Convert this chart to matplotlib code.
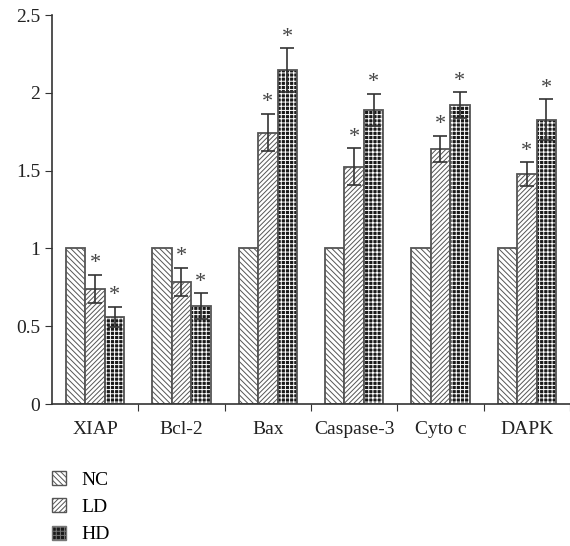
import numpy as np
import matplotlib.pyplot as plt
from matplotlib.patches import Patch

plt.rcParams['font.family'] = ['Liberation Serif', 'DejaVu Serif']
plt.rcParams['hatch.linewidth'] = 0.7

categories = ['XIAP', 'Bcl-2', 'Bax', 'Caspase-3', 'Cyto c', 'DAPK']
groups = ['NC', 'LD', 'HD']

nc = [1, 1, 1, 1, 1, 1]
ld = [0.74, 0.785, 1.745, 1.525, 1.64, 1.478]
hd = [0.56, 0.628, 2.145, 1.89, 1.92, 1.828]

ld_err = [0.09, 0.09, 0.12, 0.12, 0.085, 0.075]
hd_err = [0.065, 0.083, 0.14, 0.105, 0.083, 0.13]

fig = plt.figure(figsize=(5.7, 5.46), dpi=100)
ax = fig.add_axes([0.0912, 0.26, 0.9088, 0.7125])

x = np.arange(len(categories))
w = 0.225
edge = '#555555'

ax.bar(x - w, nc, w, color='white', edgecolor=edge, hatch='\\\\\\\\\\\\', linewidth=1.3)
ax.bar(x, ld, w, color='white', edgecolor=edge, hatch='///////', linewidth=1.3)
# HD: dark fill with white hatch, then outline on top
ax.bar(x + w, hd, w, color='#1a1a1a', edgecolor='white', hatch='++++', linewidth=0)
ax.bar(x + w, hd, w, fill=False, edgecolor=edge, linewidth=1.3)

ax.errorbar(x, ld, yerr=ld_err, fmt='none', ecolor='#333333', capsize=5, elinewidth=1.2, capthick=1.2)
ax.errorbar(x + w, hd, yerr=hd_err, fmt='none', ecolor='#333333', capsize=5, elinewidth=1.2, capthick=1.2)

for xi, v, e in zip(x, ld, ld_err):
    ax.text(xi, v + e + 0.01, '*', ha='center', va='bottom', fontsize=16, color='#444444')
for xi, v, e in zip(x + w, hd, hd_err):
    ax.text(xi, v + e + 0.01, '*', ha='center', va='bottom', fontsize=16, color='#444444')

ax.set_xlim(-0.5, 5.43)
ax.set_ylim(0, 2.5)
ax.set_yticks([0, 0.5, 1, 1.5, 2, 2.5])
ax.set_yticklabels(['0', '0.5', '1', '1.5', '2', '2.5'], fontsize=14, color='#222222')
ax.set_xticks(x + 0.5, minor=False)
ax.set_xticklabels([])
ax.set_xticks(x, minor=True)
ax.set_xticklabels(categories, minor=True, fontsize=14, color='#222222')
ax.tick_params(axis='x', which='minor', length=0, pad=12)
ax.tick_params(axis='x', which='major', length=5, direction='out', color='#333333')
ax.tick_params(axis='y', length=5, color='#333333')
ax.spines['top'].set_visible(False)
ax.spines['right'].set_visible(False)
for s in ['left', 'bottom']:
    ax.spines[s].set_color('#333333')
    ax.spines[s].set_linewidth(1.2)

handles = [
    Patch(facecolor='white', edgecolor=edge, hatch='\\\\\\\\\\\\', label='NC'),
    Patch(facecolor='white', edgecolor=edge, hatch='///////', label='LD'),
    Patch(facecolor='#1a1a1a', edgecolor='#777777', hatch='++++', label='HD'),
]
fig.legend(handles=handles, loc='upper left', bbox_to_anchor=(0.078, 0.152),
           frameon=False, fontsize=14, handlelength=0.72, handleheight=0.72,
           labelspacing=0.5, handletextpad=0.8, borderaxespad=0)

fig.savefig('out.png', dpi=100)
